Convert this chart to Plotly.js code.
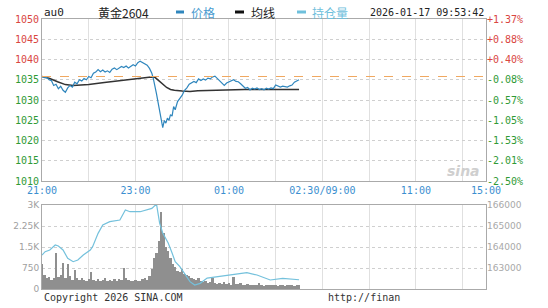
<!DOCTYPE html>
<html><head><meta charset="utf-8">
<script src="https://cdn.plot.ly/plotly-3.0.1.min.js"></script>
<style>html,body{margin:0;padding:0;background:#fff}#chart{width:548px;height:308px}</style>
</head><body><div id="chart"></div>
<script>
// ---- data (minutes since 21:00) ----
const priceTime = [0,3,6,9,12,15,18,21,24,27,30,33,36,39,42,45,48,51,54,57,60,63,66,69,72,75,78,81,84,87,90,93,96,99,102,105,108,111,114,117,120,123,126,129,132,135,138,141,143,145,147,149,151,153,155,157,159,161,163,165,167,169,171,174,177,180,183,186,189,192,195,198,201,204,207,210,213,216,219,222,225,228,231,234,237,240,243,246,249,252,255,258,261,264,267,270,273,276,279,282,285,288,291,294,297,300,303,306,309,312,315,318,321,324,327,330];
const price = [1035.8,1035.5,1035.6,1035.0,1034.8,1033.6,1033.9,1032.8,1033.4,1032.4,1031.9,1033.0,1033.6,1033.2,1034.4,1034.0,1035.0,1034.7,1035.3,1035.0,1035.8,1035.5,1036.6,1036.9,1037.5,1037.0,1037.4,1036.9,1037.2,1036.8,1037.6,1037.9,1037.5,1037.9,1038.3,1038.0,1038.4,1037.9,1038.3,1038.7,1038.4,1039.2,1039.6,1039.3,1039.1,1038.6,1037.8,1036.6,1035.2,1033.6,1031.5,1029.4,1027.2,1024.8,1023.2,1024.9,1024.3,1025.5,1025.0,1026.4,1026.0,1028.4,1027.6,1029.6,1030.4,1031.2,1032.4,1033.0,1033.9,1034.2,1034.6,1034.3,1035.2,1034.8,1035.2,1034.9,1035.4,1035.2,1035.7,1035.9,1035.3,1034.6,1034.0,1033.6,1034.2,1034.5,1034.9,1035.0,1034.6,1034.5,1034.0,1033.5,1032.9,1033.1,1032.5,1032.9,1032.7,1033.0,1032.6,1032.8,1032.5,1032.9,1032.7,1033.0,1032.8,1033.7,1033.4,1033.2,1033.4,1033.3,1033.2,1033.5,1033.7,1034.4,1034.7,1035.0];
const avgTime = [0,10,20,30,40,60,80,100,120,140,145,150,155,160,165,170,180,190,200,240,260,300,330];
const avgPrice = [1035.8,1035.3,1034.5,1033.8,1033.6,1033.8,1034.3,1034.8,1035.3,1035.7,1035.6,1034.8,1033.8,1033.1,1032.6,1032.4,1032.2,1032.1,1032.3,1032.5,1032.6,1032.6,1032.6];
const volTime = [0,3,6,9,12,15,18,21,24,27,30,33,36,39,42,45,48,51,54,57,60,63,66,69,72,75,78,81,84,87,90,93,96,99,102,105,108,111,114,117,120,123,126,129,132,135,138,141,144,147,150,153,156,159,162,165,168,171,174,177,180,183,186,189,192,195,198,201,204,207,210,213,216,219,222,225,228,231,234,237,240,243,246,249,252,255,258,261,264,267,270,273,276,279,282,285,288,291,294,297,300,303,306,309,312,315,318,321,324,327,330];
const volume = [900,500,380,420,330,380,1280,420,500,930,380,900,450,330,680,380,320,400,330,300,340,600,320,300,350,290,320,380,280,320,300,340,300,350,320,750,380,320,300,300,320,290,300,350,400,320,480,700,1100,1300,1700,2750,2000,1500,1350,1100,900,800,650,600,700,550,500,450,400,350,320,380,270,240,300,220,250,380,210,190,220,170,250,190,200,160,420,190,170,200,160,140,170,150,130,160,140,200,150,120,140,130,150,140,160,110,130,140,120,160,140,130,110,150,130];
const oiTime = [0,4,10,17,21,27,33,40,46,53,62,65,72,78,87,100,107,113,126,135,141,147,149,151,155,162,167,171,177,184,190,196,203,212,225,245,263,276,289,293,309,327,330];
const openInterest = [163619,163776,163857,164095,164048,163857,163462,163300,163380,163619,163857,164014,164650,165047,165205,165285,165762,165680,165680,165762,165840,166046,165620,165140,164666,164190,163714,163300,163062,162666,162350,162190,162270,162520,162590,162714,162780,162666,162510,162430,162510,162460,162440];
const preClose = 1035.8;
const priceTicks = [1010,1015,1020,1025,1030,1035,1040,1045,1050];
const pctTickText = ['-2.50%','-2.01%','-1.53%','-1.05%','-0.57%','-0.08%','+0.40%','+0.88%','+1.37%'];
const timeTickVals = [0,60,120,180,240,300,360,420,480,540,570];
const timeTickText = ['21:00','','23:00','','01:00','','02:30/09:00','','11:00','','15:00'];
const volTicks = [0,750,1500,2250,3000];
const volTickText = ['0','750','1.5K','2.25K','3K'];
const oiTicks = [163000,164000,165000,166000];
const oiTickText = ['163000','164000','165000','166000'];

// ---- style ----
const RED = '#d9463f', GREEN = '#2f9a35';
const MONO = 'DejaVu Sans Mono, Liberation Mono, monospace';
const L = 42, T = 19, W = 444, H = 270;
const px = x => (x - L) / W, py = y => (T + H - y) / H;

const priceTickText = priceTicks.map(v => `<span style="color:${v > preClose ? RED : GREEN}">${v}</span>`);
const pctColored = pctTickText.map((t, i) => `<span style="color:${priceTicks[i] > preClose ? RED : GREEN}">${t}</span>`);

const traces = [
  {x: volTime, y: volume, type: 'bar', xaxis: 'x2', yaxis: 'y3', marker: {color: '#8f8f8f', line: {width: 0}}, hoverinfo: 'skip'},
  {x: oiTime, y: openInterest, type: 'scatter', mode: 'lines', xaxis: 'x2', yaxis: 'y4', line: {color: '#74c1dc', width: 1.2}},
  {x: avgTime, y: avgPrice, type: 'scatter', mode: 'lines', xaxis: 'x', yaxis: 'y', line: {color: '#333333', width: 1.5}},
  {x: priceTime, y: price, type: 'scatter', mode: 'lines', xaxis: 'x', yaxis: 'y', line: {color: '#2f86bd', width: 1.2}},
  {x: [0], y: [preClose], type: 'scatter', mode: 'lines', xaxis: 'x', yaxis: 'y2', line: {width: 0}, hoverinfo: 'skip'},
  {x: [0], y: [162000], type: 'scatter', mode: 'lines', xaxis: 'x2', yaxis: 'y4', line: {width: 0}, hoverinfo: 'skip'}
];

const gridV = {showgrid: true, gridcolor: '#e0e0e0', gridwidth: 1, zeroline: false, showline: true, linecolor: '#aaaaaa', mirror: true, ticks: '', tickvals: timeTickVals, range: [0, 570], fixedrange: true};

const layout = {
  width: 548, height: 308, margin: {l: L, r: 62, t: T, b: 19},
  paper_bgcolor: '#fff', plot_bgcolor: '#fff', showlegend: false, bargap: 0,
  font: {family: MONO, size: 10, color: '#333'},
  xaxis: Object.assign({}, gridV, {domain: [0, 1], anchor: 'y', ticktext: timeTickText, tickfont: {family: MONO, size: 10, color: '#3b8fd0'}}),
  xaxis2: Object.assign({}, gridV, {domain: [0, 1], anchor: 'y3', matches: 'x', showticklabels: false}),
  yaxis: {domain: [0.4, 1], range: [1010, 1050], tickvals: priceTicks, ticktext: priceTickText, showgrid: true, gridcolor: '#cfcfcf', griddash: 'dot', zeroline: false, showline: true, linecolor: '#aaaaaa', mirror: true, ticks: '', tickfont: {family: MONO, size: 10}, fixedrange: true},
  yaxis2: {overlaying: 'y', side: 'right', range: [1010, 1050], tickvals: priceTicks, ticktext: pctColored, showgrid: false, zeroline: false, ticks: '', tickfont: {family: MONO, size: 10}, fixedrange: true},
  yaxis3: {domain: [0, 0.3111], range: [0, 3000], tickvals: volTicks, ticktext: volTickText, showgrid: true, gridcolor: '#cfcfcf', griddash: 'dot', zeroline: false, showline: true, linecolor: '#aaaaaa', mirror: true, ticks: '', tickfont: {family: 'DejaVu Sans', size: 9, color: '#a0a0a0'}, fixedrange: true},
  yaxis4: {overlaying: 'y3', side: 'right', range: [162000, 166000], tickvals: oiTicks, ticktext: oiTickText, showgrid: false, zeroline: false, ticks: '', tickfont: {family: 'DejaVu Sans', size: 9, color: '#a8a8a8'}, fixedrange: true},
  shapes: [
    {type: 'line', xref: 'x', yref: 'y', x0: 0, x1: 570, y0: preClose, y1: preClose, line: {color: '#f0a860', width: 1, dash: 'dash'}},
    {type: 'line', xref: 'paper', yref: 'paper', x0: px(176), x1: px(184), y0: py(12), y1: py(12), line: {color: '#2f86bd', width: 3}},
    {type: 'line', xref: 'paper', yref: 'paper', x0: px(235), x1: px(244), y0: py(12), y1: py(12), line: {color: '#111', width: 3}},
    {type: 'line', xref: 'paper', yref: 'paper', x0: px(297), x1: px(306), y0: py(12), y1: py(12), line: {color: '#6fc0dc', width: 3}}
  ],
  annotations: [
    {xref: 'paper', yref: 'paper', x: px(42), y: py(12), xanchor: 'left', yanchor: 'middle', showarrow: false, text: 'au0', font: {family: MONO, size: 11, color: '#222'}},
    {xref: 'paper', yref: 'paper', x: px(96), y: py(12), xanchor: 'left', yanchor: 'middle', showarrow: false, text: '黄金2604', font: {family: 'Noto Sans CJK SC', size: 12, color: '#222'}},
    {xref: 'paper', yref: 'paper', x: px(189), y: py(12), xanchor: 'left', yanchor: 'middle', showarrow: false, text: '价格', font: {family: 'Noto Sans CJK SC', size: 12, color: '#4a9bd0'}},
    {xref: 'paper', yref: 'paper', x: px(249), y: py(12), xanchor: 'left', yanchor: 'middle', showarrow: false, text: '均线', font: {family: 'Noto Sans CJK SC', size: 12, color: '#222'}},
    {xref: 'paper', yref: 'paper', x: px(310), y: py(12), xanchor: 'left', yanchor: 'middle', showarrow: false, text: '持仓量', font: {family: 'Noto Sans CJK SC', size: 12, color: '#6fc0dc'}},
    {xref: 'paper', yref: 'paper', x: px(368), y: py(12), xanchor: 'left', yanchor: 'middle', showarrow: false, text: '2026-01-17 09:53:42', font: {family: MONO, size: 10, color: '#222'}},
    {xref: 'paper', yref: 'paper', x: px(482), y: py(171), xanchor: 'right', yanchor: 'middle', showarrow: false, text: '<b><i>sina</i></b>', font: {family: 'DejaVu Sans', size: 14, color: '#cfcfcf'}},
    {xref: 'paper', yref: 'paper', x: px(42), y: py(297), xanchor: 'left', yanchor: 'middle', showarrow: false, text: 'Copyright 2026 SINA.COM', font: {family: MONO, size: 10, color: '#333'}},
    {xref: 'paper', yref: 'paper', x: px(326), y: py(297), xanchor: 'left', yanchor: 'middle', showarrow: false, text: 'http://finan', font: {family: MONO, size: 10, color: '#333'}}
  ]
};

Plotly.newPlot('chart', traces, layout, {displayModeBar: false, staticPlot: true});
</script></body></html>
